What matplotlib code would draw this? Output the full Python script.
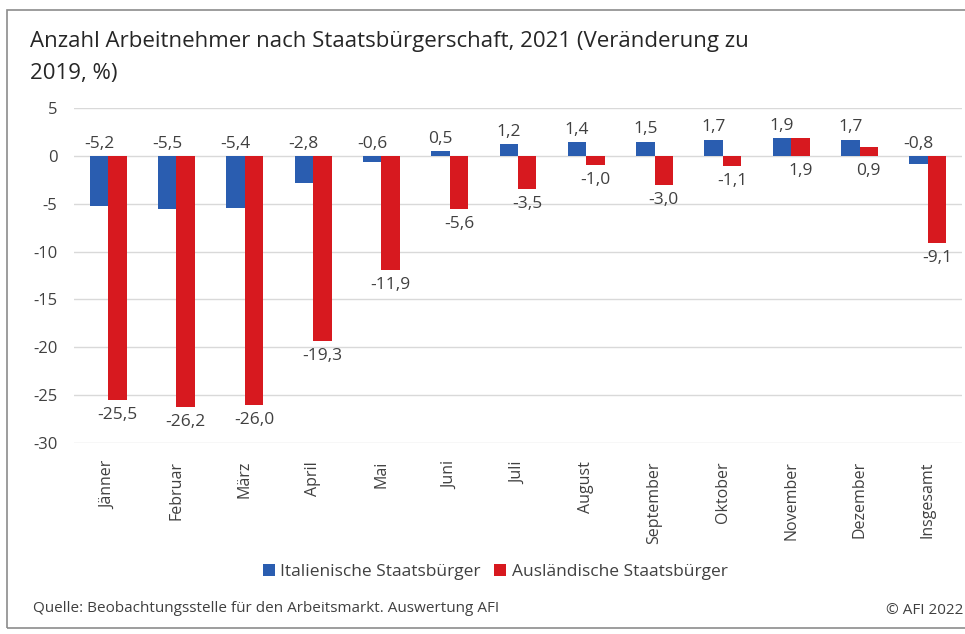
import matplotlib
matplotlib.use("Agg")
import matplotlib.pyplot as plt
from matplotlib.patches import Rectangle
import numpy as np

plt.rcParams['font.family'] = ['Open Sans', 'DejaVu Sans']

categories = ["Jänner", "Februar", "März", "April", "Mai", "Juni", "Juli",
              "August", "September", "Oktober", "November", "Dezember", "Insgesamt"]
italiener = [-5.2, -5.5, -5.4, -2.8, -0.6, 0.5, 1.2, 1.4, 1.5, 1.7, 1.9, 1.7, -0.8]
auslaender = [-25.5, -26.2, -26.0, -19.3, -11.9, -5.6, -3.5, -1.0, -3.0, -1.1, 1.9, 0.9, -9.1]
series_names = ["Italienische Staatsbürger", "Ausländische Staatsbürger"]
yticks = [5, 0, -5, -10, -15, -20, -25, -30]

blue = "#2a5db0"
red = "#d7191f"
txt = "#404040"

W, H = 965, 634
fig = plt.figure(figsize=(W / 100, H / 100), dpi=100)

# border
fig.patches.append(Rectangle((7 / W, 1 - 628 / H), (W + 5 - 7) / W, (628 - 10) / H,
                             transform=fig.transFigure, fill=False,
                             edgecolor="#8c8c8c", linewidth=1.2))

ax = fig.add_axes([74 / W, 1 - 443 / H, (962 - 74) / W, (443 - 108) / H])
x = np.arange(len(categories))
bw = 0.27
ax.bar(x - bw / 2, italiener, bw, color=blue, label=series_names[0], zorder=3)
ax.bar(x + bw / 2, auslaender, bw, color=red, label=series_names[1], zorder=3)

ax.set_xlim(-0.5, len(categories) - 0.5)
ax.set_ylim(-30, 5)
ax.set_yticks(yticks)
ax.set_yticklabels([str(v) for v in yticks], fontsize=12, color=txt)
ax.grid(axis="y", color="#d9d9d9", linewidth=1, zorder=0)
ax.set_axisbelow(True)
for s in ax.spines.values():
    s.set_visible(False)
ax.tick_params(axis="both", length=0)
ax.tick_params(axis="y", pad=12)
ax.set_xticks(x)
ax.set_xticklabels(categories, rotation=90, fontsize=11.5, color=txt, va="top")
ax.tick_params(axis="x", pad=13)

def fmt(v):
    return f"{v:.1f}".replace(".", ",")

for i, v in enumerate(italiener):
    ax.annotate(fmt(v), (x[i] - bw / 2, max(v, 0)), xytext=(0, 3),
                textcoords="offset points", ha="center", va="bottom",
                fontsize=12.5, color=txt)
for i, v in enumerate(auslaender):
    ax.annotate(fmt(v), (x[i] + bw / 2, min(v, 0)), xytext=(0, -5),
                textcoords="offset points", ha="center", va="top",
                fontsize=12.5, color=txt)

fig.text(30 / W, 1 - 42 / H, "Anzahl Arbeitnehmer nach Staatsbürgerschaft, 2021 (Veränderung zu",
         fontsize=16, color="#262626", va="center", ha="left")
fig.text(30 / W, 1 - 73 / H, "2019, %)", fontsize=16, color="#262626",
         va="center", ha="left")

leg = fig.legend(loc="center", bbox_to_anchor=(495 / W, 1 - 572 / H), ncol=2,
                 frameon=False, fontsize=12.5, handlelength=0.7, handleheight=0.7,
                 handletextpad=0.3, columnspacing=0.8, borderaxespad=0)
for t in leg.get_texts():
    t.set_color(txt)

fig.text(33 / W, 1 - 608 / H, "Quelle: Beobachtungsstelle für den Arbeitsmarkt. Auswertung AFI",
         fontsize=11, color=txt, va="center", ha="left")
fig.text(963 / W, 1 - 610 / H, "© AFI 2022", fontsize=11, color=txt,
         va="center", ha="right")

fig.savefig("out.png", dpi=100)
